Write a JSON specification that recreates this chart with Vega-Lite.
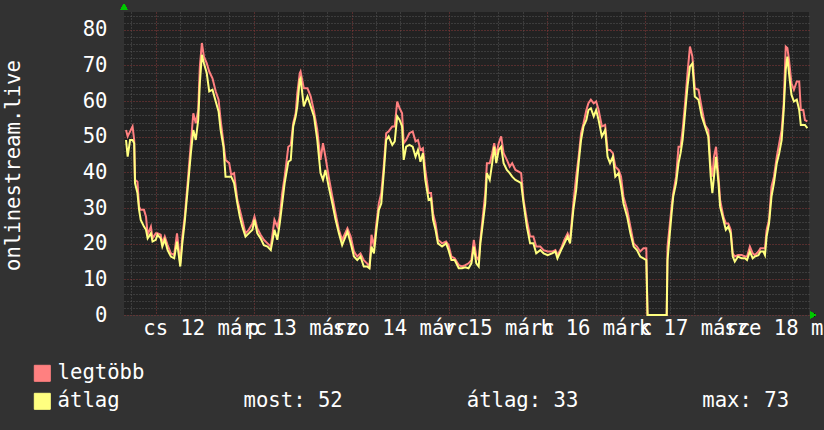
{
  "$schema": "https://vega.github.io/schema/vega-lite/v6.json",
  "width": 685,
  "height": 303,
  "autosize": "none",
  "padding": {"left": 124, "top": 12, "right": 15, "bottom": 115},
  "background": "#323232",
  "config": {
    "view": {"fill": "#222222", "stroke": null},
    "font": "DejaVu Sans Mono"
  },
  "data": {"values": [
    {"t":16.7,"max":51.9,"avg":49.1},{"t":17.1,"max":50.1,"avg":44.4},{"t":17.7,"max":51.5,"avg":49.1},{"t":18.3,"max":52.9,"avg":49.1},
    {"t":18.7,"max":49.1,"avg":48.2},{"t":18.9,"max":37.9,"avg":37},{"t":19.5,"max":37.4,"avg":34.2},{"t":19.9,"max":30.4,"avg":29.5},
    {"t":20.3,"max":29.5,"avg":26.7},{"t":21.1,"max":29.5,"avg":24.8},{"t":21.6,"max":27.6,"avg":23.9},{"t":22.0,"max":22.5,"avg":21.5},
    {"t":22.8,"max":24.8,"avg":22.9},{"t":23.2,"max":21.5,"avg":20.6},{"t":24.0,"max":22.9,"avg":21.1},{"t":24.4,"max":22.9,"avg":22.5},
    {"t":25.2,"max":22.5,"avg":21.5},{"t":25.6,"max":20.1,"avg":19.2},{"t":26.2,"max":22,"avg":21.1},{"t":26.9,"max":19.6,"avg":18.2},
    {"t":27.7,"max":17.3,"avg":16.4},{"t":28.5,"max":16.8,"avg":15.9},{"t":29.2,"max":22.9,"avg":20.6},{"t":30.0,"max":14.5,"avg":13.6},
    {"t":30.5,"max":22,"avg":20.1},{"t":31.1,"max":27.6,"avg":26.2},{"t":31.8,"max":37,"avg":35.1},{"t":32.6,"max":48.2,"avg":45.4},
    {"t":33.2,"max":56.6,"avg":51.9},{"t":33.8,"max":53.8,"avg":49.1},{"t":34.4,"max":57.5,"avg":54.7},{"t":34.8,"max":69.7,"avg":65},
    {"t":35.3,"max":76.3,"avg":73},{"t":35.8,"max":72.5,"avg":70.6},{"t":36.5,"max":70.6,"avg":67.8},{"t":37.1,"max":68.3,"avg":62.7},
    {"t":37.9,"max":66.4,"avg":63.2},{"t":38.7,"max":62.7,"avg":59.9},{"t":39.4,"max":60.4,"avg":57.1},{"t":39.9,"max":54.7,"avg":51.9},
    {"t":40.6,"max":48.2,"avg":47.2},{"t":41.1,"max":43.5,"avg":38.8},{"t":42.0,"max":42.6,"avg":38.8},{"t":42.5,"max":39.3,"avg":38.8},
    {"t":43.2,"max":39.8,"avg":37},{"t":44.0,"max":32.3,"avg":31.3},{"t":44.6,"max":29.5,"avg":27.6},{"t":45.2,"max":26.7,"avg":24.8},
    {"t":46.0,"max":22.9,"avg":22},{"t":46.8,"max":23.9,"avg":22.9},{"t":47.7,"max":25.7,"avg":23.9},{"t":48.2,"max":27.6,"avg":26.7},
    {"t":48.9,"max":24.3,"avg":22.9},{"t":49.7,"max":22.5,"avg":21.5},{"t":50.5,"max":21.1,"avg":19.6},{"t":51.4,"max":20.1,"avg":19.2},
    {"t":52.2,"max":19.2,"avg":18.2},{"t":53.1,"max":26.7,"avg":23.9},{"t":53.8,"max":24.8,"avg":21.1},{"t":54.4,"max":27.6,"avg":25.7},
    {"t":55.0,"max":34.2,"avg":31.3},{"t":55.6,"max":38.8,"avg":37},{"t":56.5,"max":47.2,"avg":43},{"t":57.1,"max":47.7,"avg":43.5},
    {"t":57.7,"max":53.8,"avg":52.9},{"t":58.3,"max":56.6,"avg":55.7},{"t":58.7,"max":62.2,"avg":58.5},{"t":59.3,"max":67.8,"avg":66},
    {"t":59.5,"max":68.3,"avg":66.4},{"t":60.3,"max":63.6,"avg":58.5},{"t":61.2,"max":63.6,"avg":61.3},{"t":62.0,"max":61.3,"avg":58.5},
    {"t":62.8,"max":57.1,"avg":55.7},{"t":63.6,"max":51.9,"avg":49.1},{"t":64.4,"max":43.5,"avg":39.8},{"t":65.0,"max":48.2,"avg":37.9},
    {"t":65.6,"max":44.4,"avg":40.7},{"t":66.4,"max":38.8,"avg":36},{"t":67.3,"max":33.2,"avg":31.3},{"t":68.1,"max":28.5,"avg":26.7},
    {"t":68.9,"max":23.9,"avg":22.9},{"t":69.7,"max":21.1,"avg":19.6},{"t":71.0,"max":24.3,"avg":23.4},{"t":71.8,"max":22,"avg":20.1},
    {"t":72.6,"max":17.8,"avg":16.4},{"t":73.4,"max":16.4,"avg":15.4},{"t":74.2,"max":17.3,"avg":16.4},{"t":75.0,"max":15.4,"avg":13.6},
    {"t":75.8,"max":14.5,"avg":13.6},{"t":76.4,"max":13.6,"avg":13.1},{"t":76.9,"max":22.5,"avg":19.2},{"t":77.5,"max":19.2,"avg":17.3},
    {"t":78.1,"max":25.7,"avg":23.9},{"t":78.7,"max":31.3,"avg":29.5},{"t":79.3,"max":34.2,"avg":31.3},{"t":79.9,"max":41.6,"avg":39.8},
    {"t":80.5,"max":51,"avg":49.1},{"t":81.1,"max":51.5,"avg":50.1},{"t":82.0,"max":52.9,"avg":47.7},{"t":82.6,"max":52.9,"avg":48.7},
    {"t":83.2,"max":59.9,"avg":55.7},{"t":83.8,"max":58,"avg":54.7},{"t":84.4,"max":56.6,"avg":52.9},{"t":84.8,"max":48.2,"avg":43.5},
    {"t":85.4,"max":49.1,"avg":47.2},{"t":86.2,"max":51,"avg":47.7},{"t":87.0,"max":51.5,"avg":47.2},{"t":87.7,"max":48.7,"avg":44.4},
    {"t":88.3,"max":49.1,"avg":46.3},{"t":88.9,"max":46.3,"avg":43},{"t":89.5,"max":46.8,"avg":45.4},{"t":90.1,"max":40.7,"avg":37.9},
    {"t":90.9,"max":34.2,"avg":32.3},{"t":91.5,"max":34.2,"avg":32.7},{"t":92.0,"max":28.5,"avg":26.7},{"t":92.6,"max":25.7,"avg":23.9},
    {"t":93.2,"max":21.1,"avg":20.1},{"t":94.2,"max":20.1,"avg":19.2},{"t":95.2,"max":20.6,"avg":20.1},{"t":95.8,"max":19.6,"avg":18.2},
    {"t":96.5,"max":16.4,"avg":15.4},{"t":97.3,"max":15.9,"avg":15.4},{"t":98.3,"max":14,"avg":13.1},{"t":99.1,"max":13.6,"avg":13.1},
    {"t":99.9,"max":14,"avg":13.4},{"t":100.7,"max":14.5,"avg":13.1},{"t":101.4,"max":15.4,"avg":14.5},{"t":102.0,"max":21.1,"avg":19.2},
    {"t":102.6,"max":16.4,"avg":14.5},{"t":103.2,"max":15.4,"avg":13.6},{"t":103.6,"max":21.1,"avg":20.1},{"t":104.2,"max":27.6,"avg":25.7},
    {"t":104.8,"max":34.2,"avg":31.3},{"t":105.2,"max":42.6,"avg":39.8},{"t":105.9,"max":42.6,"avg":37.9},{"t":106.5,"max":45.4,"avg":42.6},
    {"t":107.0,"max":48.2,"avg":47.2},{"t":107.5,"max":44.9,"avg":42.6},{"t":108.1,"max":48.2,"avg":46.3},{"t":108.7,"max":50.1,"avg":47.2},
    {"t":109.3,"max":45.4,"avg":42.6},{"t":110.1,"max":43.5,"avg":40.7},{"t":110.8,"max":41.6,"avg":39.8},{"t":111.4,"max":42.6,"avg":38.8},
    {"t":112.2,"max":40.7,"avg":37.9},{"t":113.0,"max":40.2,"avg":37.4},{"t":113.6,"max":39.8,"avg":37},{"t":114.2,"max":32.3,"avg":31.3},
    {"t":115.0,"max":26.7,"avg":24.8},{"t":115.8,"max":22,"avg":20.1},{"t":116.6,"max":22,"avg":20.1},{"t":117.3,"max":19.2,"avg":17.3},
    {"t":118.3,"max":19.2,"avg":18.2},{"t":119.1,"max":18.2,"avg":17.3},{"t":120.1,"max":17.8,"avg":16.8},{"t":121.2,"max":17.8,"avg":17.3},
    {"t":122.0,"max":18.2,"avg":17.8},{"t":122.5,"max":16.8,"avg":15.9},{"t":123.4,"max":18.7,"avg":18.2},{"t":124.2,"max":21.1,"avg":20.1},
    {"t":125.0,"max":22.9,"avg":22},{"t":125.6,"max":21.1,"avg":20.1},{"t":126.4,"max":31.3,"avg":29.5},{"t":127.1,"max":38.8,"avg":35.1},
    {"t":127.7,"max":44.4,"avg":42.6},{"t":128.3,"max":51,"avg":49.1},{"t":128.9,"max":53.8,"avg":52.9},{"t":129.6,"max":57.5,"avg":54.7},
    {"t":130.1,"max":59.4,"avg":57.5},{"t":130.7,"max":60.4,"avg":58},{"t":131.4,"max":59.4,"avg":55.7},{"t":132.0,"max":59.9,"avg":57.5},
    {"t":132.6,"max":57.5,"avg":54.7},{"t":133.4,"max":52.9,"avg":50.1},{"t":134.2,"max":53.3,"avg":51.9},{"t":134.8,"max":46.3,"avg":44.4},
    {"t":135.4,"max":46.3,"avg":42.6},{"t":136.1,"max":45.4,"avg":44.4},{"t":136.7,"max":41.6,"avg":38.8},{"t":137.5,"max":40.7,"avg":39.8},
    {"t":138.1,"max":38.8,"avg":36},{"t":138.7,"max":33.2,"avg":31.3},{"t":139.6,"max":29.5,"avg":27.6},{"t":140.4,"max":24.8,"avg":22.9},
    {"t":141.2,"max":20.1,"avg":19.2},{"t":142.0,"max":19.2,"avg":18.2},{"t":142.8,"max":17.8,"avg":16.4},{"t":143.6,"max":18.7,"avg":15.9},
    {"t":144.3,"max":18.7,"avg":15.4},{"t":144.6,"max":0,"avg":0},{"t":149.3,"max":0,"avg":0},{"t":149.5,"max":19.2,"avg":15.4},
    {"t":150.0,"max":24.8,"avg":22},{"t":150.5,"max":30.4,"avg":28.5},{"t":150.9,"max":34.2,"avg":33.2},{"t":151.6,"max":38.8,"avg":37},
    {"t":152.2,"max":47.2,"avg":42.6},{"t":152.7,"max":47.2,"avg":45.4},{"t":153.2,"max":51.9,"avg":49.1},{"t":153.8,"max":59.4,"avg":56.6},
    {"t":154.4,"max":67.8,"avg":64.1},{"t":155.0,"max":75.3,"avg":69.7},{"t":155.6,"max":72.5,"avg":70.6},{"t":156.2,"max":63.6,"avg":61.3},
    {"t":157.1,"max":63.2,"avg":60.4},{"t":157.9,"max":58,"avg":55.7},{"t":158.7,"max":53.3,"avg":52.9},{"t":159.5,"max":51.9,"avg":50.1},
    {"t":160.1,"max":41.6,"avg":38.8},{"t":160.5,"max":38.8,"avg":34.2},{"t":160.9,"max":44.4,"avg":38.8},{"t":161.4,"max":47.2,"avg":44.4},
    {"t":162.0,"max":38.8,"avg":37},{"t":162.4,"max":32.3,"avg":30.4},{"t":163.2,"max":27.6,"avg":26.7},{"t":163.8,"max":25.7,"avg":23.9},
    {"t":164.4,"max":25.7,"avg":24.8},{"t":165.0,"max":23.9,"avg":22.9},{"t":165.5,"max":17.3,"avg":16.4},{"t":166.0,"max":16.4,"avg":15},
    {"t":166.8,"max":16.8,"avg":16.4},{"t":167.7,"max":16.8,"avg":15.9},{"t":168.5,"max":16.4,"avg":15.9},{"t":169.0,"max":16.4,"avg":15.4},
    {"t":169.7,"max":19.2,"avg":17.8},{"t":170.4,"max":17.3,"avg":15.9},{"t":170.9,"max":16.8,"avg":16.4},{"t":171.8,"max":17.8,"avg":16.8},
    {"t":172.3,"max":18.7,"avg":17.8},{"t":173.0,"max":18.7,"avg":17.8},{"t":173.4,"max":18.7,"avg":16.8},{"t":173.8,"max":23.9,"avg":22},
    {"t":174.4,"max":26.7,"avg":25.7},{"t":175.0,"max":36,"avg":33.2},{"t":175.6,"max":38.8,"avg":37},{"t":176.3,"max":44.4,"avg":42.6},
    {"t":176.9,"max":48.2,"avg":45.4},{"t":177.5,"max":51.9,"avg":49.1},{"t":178.0,"max":59.4,"avg":57.5},{"t":178.5,"max":75.3,"avg":68.8},
    {"t":178.9,"max":74.9,"avg":72.5},{"t":179.3,"max":71.6,"avg":67.8},{"t":179.9,"max":65,"avg":61.8},{"t":180.5,"max":63.2,"avg":59.9},
    {"t":181.2,"max":65.5,"avg":60.4},{"t":181.8,"max":65.5,"avg":57.5},{"t":182.2,"max":57.5,"avg":53.3},{"t":182.8,"max":57.5,"avg":53.3},
    {"t":183.2,"max":54.7,"avg":53.3},{"t":183.8,"max":54.3,"avg":52.4}
  ]},
  "encoding": {
    "x": {
      "field": "t",
      "type": "quantitative",
      "scale": {"domain": [16.2, 184.2], "nice": false, "zero": false},
      "axis": {
        "title": null,
        "values": [18,24,30,36,42,48,54,60,66,72,78,84,90,96,102,108,114,120,126,132,138,144,150,156,162,168,174,180],
        "labelExpr": "datum.value % 24 === 12 ? ['cs 12 márc','p 13 márc','szo 14 márc','v 15 márc','h 16 márc','k 17 márc','sze 18 márc'][(datum.value - 36) / 24] : ''",
        "labelOverlap": false,
        "labelBound": false,
        "labelFlush": false,
        "labelLimit": 0,
        "labelFont": "DejaVu Sans Mono",
        "labelFontSize": 20.6,
        "labelColor": "#ffffff",
        "labelPadding": 3,
        "ticks": false,
        "domain": false,
        "grid": true,
        "gridDash": [1, 2],
        "gridWidth": 1,
        "gridOpacity": 1,
        "gridColor": {"condition": {"test": "datum.value % 24 === 0", "value": "#8a3b3b"}, "value": "#575757"}
      }
    },
    "y": {
      "type": "quantitative",
      "scale": {"domain": [0, 85], "nice": false},
      "axis": {
        "title": "onlinestream.live",
        "titleFont": "DejaVu Sans Mono",
        "titleFontSize": 20.6,
        "titleFontWeight": "normal",
        "titleColor": "#ffffff",
        "titleAngle": -90,
        "titleX": -105,
        "titleY": 153,
        "titleAlign": "center",
        "titleBaseline": "alphabetic",
        "values": [0,2,4,6,8,10,12,14,16,18,20,22,24,26,28,30,32,34,36,38,40,42,44,46,48,50,52,54,56,58,60,62,64,66,68,70,72,74,76,78,80,82,84],
        "labelExpr": "datum.value % 10 === 0 ? datum.label : ''",
        "labelFont": "DejaVu Sans Mono",
        "labelFontSize": 20.6,
        "labelColor": "#ffffff",
        "labelPadding": 17,
        "labelBound": false,
        "labelFlush": false,
        "labelOverlap": false,
        "ticks": false,
        "domain": false,
        "grid": true,
        "gridDash": [1, 2],
        "gridWidth": 1,
        "gridOpacity": 1,
        "gridColor": {"condition": {"test": "datum.value % 10 === 0", "value": "#8a3b3b"}, "value": "#575757"}
      }
    }
  },
  "layer": [
    {
      "mark": {"type": "line", "strokeWidth": 2, "interpolate": "linear"},
      "encoding": {
        "y": {"field": "max", "type": "quantitative"},
        "color": {"datum": "legtöbb"}
      }
    },
    {
      "mark": {"type": "line", "strokeWidth": 2, "interpolate": "linear"},
      "encoding": {
        "y": {"field": "avg", "type": "quantitative"},
        "color": {
          "datum": "átlag",
          "scale": {"domain": ["legtöbb", "átlag"], "range": ["#ff8080", "#ffff80"]},
          "legend": {
            "title": null,
            "orient": "none",
            "legendX": -92,
            "legendY": 351,
            "padding": 0,
            "direction": "vertical",
            "symbolType": "square",
            "symbolSize": 256,
            "symbolStrokeColor": "#000000",
            "symbolStrokeWidth": 1,
            "labelFont": "DejaVu Sans Mono",
            "labelFontSize": 20.6,
            "labelColor": "#ffffff",
            "labelOffset": 5,
            "labelLimit": 0,
            "rowPadding": 7,
            "labelExpr": "datum.label === 'átlag' ? 'átlag\u00a0\u00a0\u00a0\u00a0\u00a0\u00a0\u00a0\u00a0\u00a0\u00a0most: 52\u00a0\u00a0\u00a0\u00a0\u00a0\u00a0\u00a0\u00a0\u00a0\u00a0átlag: 33\u00a0\u00a0\u00a0\u00a0\u00a0\u00a0\u00a0\u00a0\u00a0\u00a0max: 73' : datum.label",
            "encode": {
              "symbols": {
                "update": {
                  "fill": {"scale": "color", "field": "value"},
                  "fillOpacity": {"value": 1},
                  "stroke": {"value": "#000000"},
                  "strokeWidth": {"value": 1}
                }
              }
            }
          }
        }
      }
    },
    {
      "mark": {"type": "point", "shape": "triangle-up", "filled": true, "size": 40, "color": "#00c800", "opacity": 1},
      "encoding": {
        "x": {"datum": 16.2},
        "y": {"datum": 86.5}
      }
    },
    {
      "mark": {"type": "point", "shape": "triangle-right", "filled": true, "size": 40, "color": "#00c800", "opacity": 1},
      "encoding": {
        "x": {"datum": 185.2},
        "y": {"datum": 0}
      }
    }
  ]
}
